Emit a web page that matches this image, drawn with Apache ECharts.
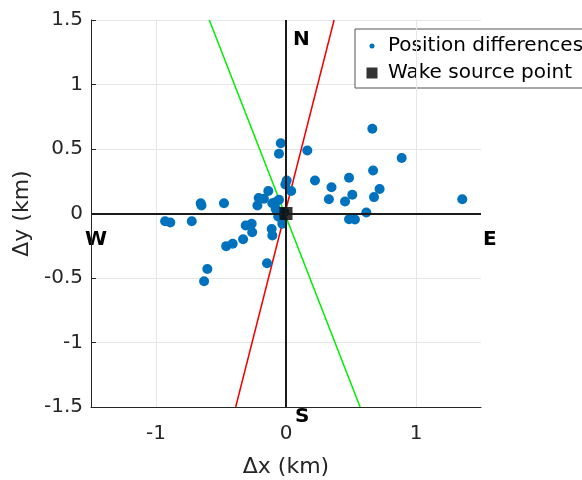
<!DOCTYPE html>
<html>
<head>
<meta charset="utf-8">
<script src="https://cdn.jsdelivr.net/npm/echarts@6/dist/echarts.min.js"></script>
<style>html,body{margin:0;padding:0;background:#fff}#c{width:582px;height:480px}</style>
</head>
<body>
<div id="c"></div>
<script>
// Position differences (km)
const posX = [-0.04,-0.054,0.164,0.664,0.89,0.67,0.223,0.485,0.35,0.72,0.51,0.677,0.33,0.454,1.356,0.618,0.485,0.53,
  0.005,-0.005,0.04,-0.136,-0.21,-0.17,-0.22,-0.105,-0.08,-0.054,-0.08,-0.06,-0.028,-0.028,-0.31,-0.264,-0.26,-0.33,
  -0.41,-0.46,-0.11,-0.105,-0.146,-0.605,-0.63,-0.656,-0.65,-0.477,-0.93,-0.89,-0.725,-0.015];
const posY = [0.545,0.463,0.488,0.657,0.43,0.333,0.256,0.277,0.204,0.19,0.145,0.127,0.11,0.093,0.11,0.008,-0.044,-0.047,
  0.256,0.225,0.175,0.175,0.12,0.114,0.062,0.08,0.088,0.106,0.036,-0.023,-0.054,-0.08,-0.093,-0.08,-0.145,-0.2,
  -0.235,-0.253,-0.12,-0.17,-0.385,-0.43,-0.525,0.08,0.062,0.08,-0.06,-0.07,-0.06,0.01];
const sourceX = [0];
const sourceY = [0];
// Direction lines (endpoints)
const redX = [-0.387, 0.37];
const redY = [-1.5, 1.5];
const greenX = [-0.59, 0.57];
const greenY = [1.5, -1.5];
const xTicks = [-1, 0, 1];
const yTicks = [-1.5, -1, -0.5, 0, 0.5, 1, 1.5];
const compass = ['N', 'S', 'W', 'E'];

const zip = (a, b) => a.map((v, i) => [v, b[i]]);
const F = 'DejaVu Sans, Liberation Sans, sans-serif';
const txt = '#262626';

const chart = echarts.init(document.getElementById('c'));
chart.setOption({
  animation: false,
  backgroundColor: '#fff',
  grid: { left: 91, right: 101, top: 20, bottom: 73, containLabel: false, outerBoundsMode: 'none' },
  xAxis: {
    type: 'value', min: -1.5, max: 1.5,
    name: 'Δx (km)', nameLocation: 'middle', nameGap: 49,
    nameTextStyle: { fontFamily: F, fontSize: 22, color: txt },
    axisLine: { onZero: false, lineStyle: { color: txt, width: 1 } },
    axisTick: { inside: true, length: 5, customValues: xTicks, lineStyle: { color: txt } },
    axisLabel: { customValues: xTicks, fontFamily: F, fontSize: 20, color: txt, margin: 17 },
    splitLine: { show: false }
  },
  yAxis: {
    type: 'value', min: -1.5, max: 1.5, interval: 0.5,
    name: 'Δy (km)', nameLocation: 'middle', nameGap: 57,
    nameTextStyle: { fontFamily: F, fontSize: 22, color: txt },
    axisLine: { show: true, onZero: false, lineStyle: { color: txt, width: 1 } },
    axisTick: { show: true, inside: true, length: 5, lineStyle: { color: txt } },
    axisLabel: { fontFamily: F, fontSize: 20, color: txt, margin: 8 },
    splitLine: { show: true, lineStyle: { color: '#e6e6e6', width: 1 } }
  },
  legend: {
    orient: 'vertical', left: 355, top: 29,
    backgroundColor: '#fff', borderColor: '#555', borderWidth: 1,
    padding: [7, 20, 5, 10], itemGap: 7, itemWidth: 22, itemHeight: 14,
    textStyle: { fontFamily: F, fontSize: 20, color: '#000' },
    data: [
      { name: 'Position differences', icon: 'path://M0,0 M14,14 M9.5,7 A2.5,2.5 0 1,1 4.5,7 A2.5,2.5 0 1,1 9.5,7 Z' },
      { name: 'Wake source point', icon: 'path://M0,0 M14,14 M1.5,1.5 L12.5,1.5 L12.5,12.5 L1.5,12.5 Z' }
    ]
  },
  graphic: [
    { type: 'text', left: 293, top: 30, style: { text: compass[0], font: 'bold 20px ' + F, fill: '#000' } },
    { type: 'text', left: 295, top: 407, style: { text: compass[1], font: 'bold 20px ' + F, fill: '#000' } },
    { type: 'text', left: 85, top: 230, style: { text: compass[2], font: 'bold 20px ' + F, fill: '#000' } },
    { type: 'text', left: 483, top: 230, style: { text: compass[3], font: 'bold 20px ' + F, fill: '#000' } }
  ],
  series: [
    {
      name: 'grid', type: 'line', data: [], z: 1, silent: true,
      markLine: {
        symbol: 'none', silent: true, label: { show: false },
        data: [
          { xAxis: -1, lineStyle: { color: '#e6e6e6', width: 1, type: 'solid' } },
          { xAxis: 1, lineStyle: { color: '#e6e6e6', width: 1, type: 'solid' } },
          { xAxis: 0, lineStyle: { color: '#1a1a1a', width: 2, type: 'solid' } },
          { yAxis: 0, lineStyle: { color: '#1a1a1a', width: 2, type: 'solid' } }
        ]
      }
    },
    {
      name: 'red', type: 'line', data: zip(redX, redY), symbol: 'none', z: 2,
      lineStyle: { color: '#f00000', width: 1.5 }
    },
    {
      name: 'green', type: 'line', data: zip(greenX, greenY), symbol: 'none', z: 2,
      lineStyle: { color: '#00ee00', width: 1.5 }
    },
    {
      name: 'Position differences', type: 'scatter', data: zip(posX, posY),
      symbol: 'circle', symbolSize: 10, z: 3,
      itemStyle: { color: '#0072BD', opacity: 1 }
    },
    {
      name: 'Wake source point', type: 'scatter', data: zip(sourceX, sourceY),
      symbol: 'rect', symbolSize: 13, z: 4,
      itemStyle: { color: '#000' }
    }
  ]
});
</script>
</body>
</html>
